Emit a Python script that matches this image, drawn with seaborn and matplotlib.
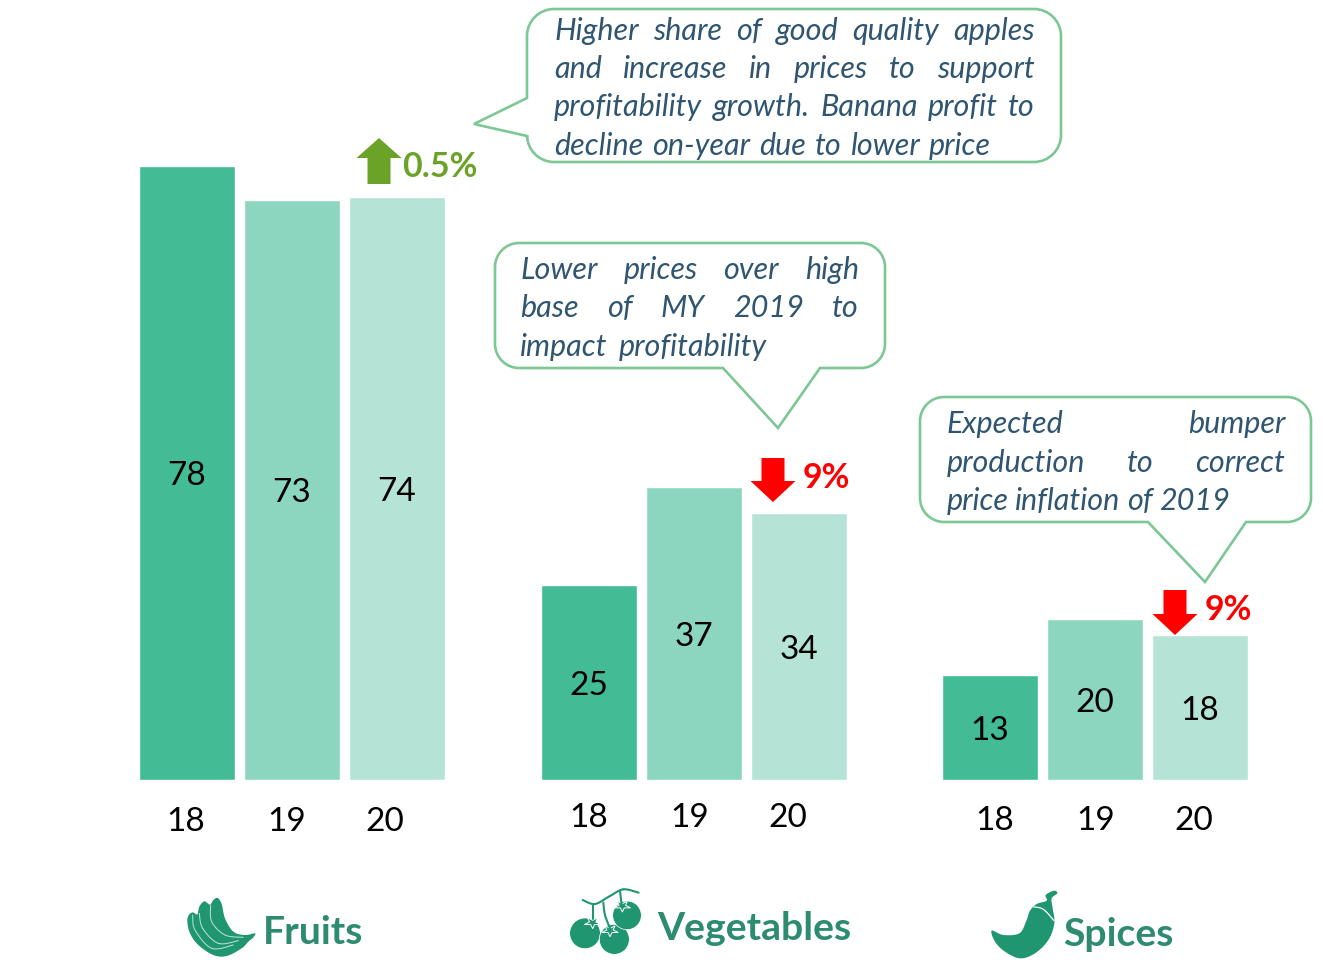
import numpy as np
import pandas as pd
import matplotlib
matplotlib.use("Agg")
import matplotlib.pyplot as plt
from matplotlib.patches import Polygon, PathPatch, Circle
from matplotlib.path import Path
import seaborn as sns

# ---- data ----
years = ["18", "19", "20"]
groups = ["Fruits", "Vegetables", "Spices"]
fruits_height = [77.9, 73.6, 73.9]
vegetables_height = [24.7, 37.1, 33.8]
spices_height = [13.3, 20.4, 18.4]
fruits_labels = ["78", "73", "74"]
vegetables_labels = ["25", "37", "34"]
spices_labels = ["13", "20", "18"]
bar_colors = ["#43BB95", "#8CD6BF", "#B5E4D6"]
changes = ["0.5%", "9%", "9%"]
notes = [
    ["Higher share of good quality apples", "and increase in prices to support",
     "profitability growth. Banana profit to", "decline on-year due to lower price"],
    ["Lower prices over high", "base of MY 2019 to", "impact profitability"],
    ["Expected bumper", "production to correct", "price inflation of 2019"],
]

sns.set_theme(style="white")
plt.rcParams["font.family"] = ["Lato", "DejaVu Sans"]

W, H = 1323, 968
fig = plt.figure(figsize=(W / 100, H / 100), dpi=100, facecolor="white")

# ---- bars: one small axes per group ----
PX_PER_UNIT = 7.88
BASE = 779.5
PITCH = 105.0
TOP = 80
lefts = [134.6, 536.1, 937.2]
heights = [fruits_height, vegetables_height, spices_height]
labels = [fruits_labels, vegetables_labels, spices_labels]
for g, left, h, lab in zip(groups, lefts, heights, labels):
    df = pd.DataFrame({"year": years, "value": h})
    ax = fig.add_axes([left / W, 1 - BASE / H, 3 * PITCH / W, TOP * PX_PER_UNIT / H])
    sns.barplot(data=df, x="year", y="value", hue="year", palette=bar_colors,
                width=0.915, dodge=False, legend=False, ax=ax, saturation=1)
    ax.set_xlim(-0.5, 2.5)
    ax.set_ylim(0, TOP)
    ax.axis("off")
    for cont, l in zip(ax.containers, lab):
        for ann in ax.bar_label(cont, labels=[l], label_type="center", fontsize=24,
                                color="black"):
            ann.xyann = (0, -2.6)

# ---- overlay in pixel coordinates ----
ov = fig.add_axes([0, 0, 1, 1], facecolor="none")
ov.set_xlim(0, W)
ov.set_ylim(H, 0)
ov.axis("off")

# year labels
year_x = [[186, 287, 385], [589, 690, 788], [995, 1096, 1194]]
year_y = [822, 818, 821]
for xs, y in zip(year_x, year_y):
    for x, t in zip(xs, years):
        ov.text(x, y, t, ha="center", va="center", fontsize=24, color="black")


def callout(x0, y0, x1, y1, r, tail, side):
    k = 0.55 * r
    v = [(x0 + r, y0), (x1 - r, y0), (x1 - r + k, y0), (x1, y0 + r - k), (x1, y0 + r),
         (x1, y1 - r), (x1, y1 - r + k), (x1 - r + k, y1), (x1 - r, y1)]
    c = [Path.MOVETO, Path.LINETO, Path.CURVE4, Path.CURVE4, Path.CURVE4,
         Path.LINETO, Path.CURVE4, Path.CURVE4, Path.CURVE4]
    if side == "bottom":
        v += tail
        c += [Path.LINETO] * len(tail)
    v += [(x0 + r, y1), (x0 + r - k, y1), (x0, y1 - r + k), (x0, y1 - r)]
    c += [Path.LINETO, Path.CURVE4, Path.CURVE4, Path.CURVE4]
    if side == "left":
        v += tail
        c += [Path.LINETO] * len(tail)
    v += [(x0, y0 + r), (x0, y0 + r - k), (x0 + r - k, y0), (x0 + r, y0), (x0 + r, y0)]
    c += [Path.LINETO, Path.CURVE4, Path.CURVE4, Path.CURVE4, Path.CLOSEPOLY]
    ov.add_patch(PathPatch(Path(v, c), fc="white", ec="#7DC795", lw=1.9, joinstyle="miter"))


callout(527, 9, 1061, 162, 27, [(527, 136), (474, 124), (527, 98)], "left")
callout(495, 243, 885, 368, 24, [(820, 368), (778, 428), (723, 368)], "bottom")
callout(920, 397, 1311, 522, 24, [(1246, 522), (1205, 582), (1148, 522)], "bottom")

renderer = fig.canvas.get_renderer()
NOTE = dict(fontsize=22, style="italic", color="#2F5570", va="center", ha="left")


def justified(line, x0, x1, y):
    words = line.split()
    arts = [ov.text(0, y, w, **NOTE) for w in words]
    widths = [a.get_window_extent(renderer).width for a in arts]
    gap = (x1 - x0 - sum(widths)) / max(len(words) - 1, 1)
    x = x0
    for a, w in zip(arts, widths):
        a.set_x(x)
        x += w + gap


note_box = [(554, [1035, 1035, 1035, 991], [31, 69, 107, 146]),
            (520, [859, 859, 767], [270, 308, 347]),
            (947, [1285, 1285, 1230], [424, 463, 501])]
for lines, (x0, ends, ys) in zip(notes, note_box):
    for line, end, y in zip(lines, ends, ys):
        justified(line, x0, end, y)


# change arrows
def arrow(cx, tip, head, end, half_head, half_shaft, color):
    ov.add_patch(Polygon([(cx, tip), (cx + half_head, head), (cx + half_shaft, head),
                          (cx + half_shaft, end), (cx - half_shaft, end),
                          (cx - half_shaft, head), (cx - half_head, head)],
                         closed=True, fc=color, ec="none"))


arrow(379, 138, 158, 184, 22.5, 11.5, "#6BA329")
arrow(773, 502, 481, 458, 22.5, 11.5, "#FF0000")
arrow(1175, 635, 614, 590, 22.5, 11.5, "#FF0000")
CHG = dict(fontsize=24.5, weight="bold", ha="left", va="center")
ov.text(402, 167, changes[0], color="#6BA329", **CHG)
ov.text(803, 478, changes[1], color="#FF0000", **CHG)
ov.text(1205, 610, changes[2], color="#FF0000", **CHG)

# group titles
TITLE = dict(color="#2D8B6F", fontsize=28.2, weight="bold", ha="left", va="center")
ov.text(263, 932, groups[0], **TITLE)
ov.text(657, 928, groups[1], **TITLE)
ov.text(1063, 935, groups[2], **TITLE)

ICON = "#1F9670"


def smooth(pts, n=12):
    p = np.array(pts, float)
    m = len(p)
    out = []
    for i in range(m):
        a, b, c, d = p[(i - 1) % m], p[i], p[(i + 1) % m], p[(i + 2) % m]
        for t in np.linspace(0, 1, n, endpoint=False):
            out.append(0.5 * (2 * b + (c - a) * t + (2 * a - 5 * b + 4 * c - d) * t ** 2
                              + (3 * b - a - 3 * c + d) * t ** 3))
    return np.array(out)


def open_curve(pts, n=12):
    p = np.array(pts, float)
    p = np.vstack([p[0], p, p[-1]])
    out = []
    for i in range(1, len(p) - 2):
        a, b, c, d = p[i - 1], p[i], p[i + 1], p[i + 2]
        for t in np.linspace(0, 1, n):
            out.append(0.5 * (2 * b + (c - a) * t + (2 * a - 5 * b + 4 * c - d) * t ** 2
                              + (3 * b - a - 3 * c + d) * t ** 3))
    return np.array(out)


def z(pts, ox, oy=880):
    return [(x / 3 + ox, y / 3 + oy) for x, y in pts]


# banana icon
banana = Polygon(smooth(z([(52, 125), (56, 106), (68, 97), (82, 103), (88, 80), (103, 64),
                           (120, 74), (130, 60), (143, 54), (155, 72), (165, 115),
                           (190, 155), (225, 165), (255, 160), (250, 172), (235, 185),
                           (215, 205), (170, 228), (130, 225), (85, 195), (60, 160)], 170)),
                 fc=ICON, ec="none")
ov.add_patch(banana)
for c in [[(68, 105), (75, 150), (125, 205), (190, 195)],
          [(88, 100), (98, 145), (145, 190), (205, 182)],
          [(122, 75), (125, 125), (165, 165), (220, 172)]]:
    xy = open_curve(z(c, 170))
    ln, = ov.plot(xy[:, 0], xy[:, 1], color="#BFE3D5", lw=0.7)
    ln.set_clip_path(banana)

# tomato icon
for cx, cy, r in [(75, 160, 46), (163, 178, 45), (201, 106, 43)]:
    ov.add_patch(Circle((cx / 3 + 560, cy / 3 + 880), r / 3, fc=ICON, ec="white", lw=0.5))
for c in [[(68, 60), (105, 72), (150, 48), (190, 28), (236, 38)],
          [(100, 72), (100, 118)],
          [(130, 68), (135, 105), (150, 145)],
          [(180, 32), (185, 75)]]:
    xy = open_curve(z(c, 560))
    ov.plot(xy[:, 0], xy[:, 1], color=ICON, lw=1.5)
for cx, cy in [(98, 128), (150, 152), (187, 78)]:
    a = np.linspace(np.pi / 2, 2.5 * np.pi, 10, endpoint=False)
    rad = np.where(np.arange(10) % 2 == 0, 26, 10)
    star = [(cx + q * np.cos(t), cy + 0.7 * q * np.sin(t)) for q, t in zip(rad, a)]
    ov.add_patch(Polygon(z(star, 560), closed=True, fc=ICON, ec="white", lw=0.7))

# chili icon
chili = Polygon(smooth(z([(35, 152), (70, 165), (118, 160), (138, 125), (150, 92),
                          (170, 72), (200, 62), (197, 45), (222, 32), (232, 40),
                          (215, 55), (218, 85), (223, 130), (205, 180), (165, 220),
                          (120, 235), (75, 215), (45, 185)], 980)), fc=ICON, ec="none")
ov.add_patch(chili)
xy = open_curve(z([(158, 80), (190, 88), (222, 122)], 980))
ln, = ov.plot(xy[:, 0], xy[:, 1], color="white", lw=0.9)
ln.set_clip_path(chili)

fig.savefig("out.png", dpi=100, facecolor="white")
